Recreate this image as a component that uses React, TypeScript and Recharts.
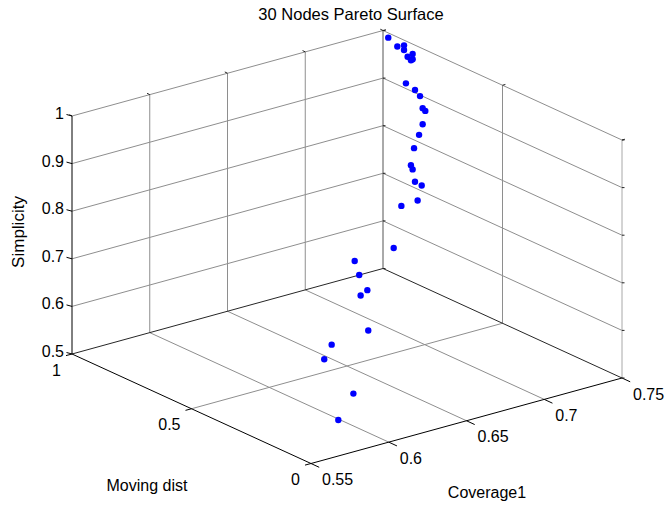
import React from "react";
import {
	ScatterChart,
	Scatter,
	XAxis,
	YAxis,
	ReferenceLine,
	ReferenceDot,
} from "recharts";

// 30 nodes pareto points (coverage1, moving dist, simplicity)
const coverage = [
	0.75, 0.748, 0.75, 0.748, 0.746, 0.75, 0.746, 0.748, 0.74, 0.742, 0.742, 0.74,
	0.742, 0.738, 0.736, 0.734, 0.732, 0.734, 0.732, 0.736, 0.73, 0.72, 0.71, 0.67,
	0.67, 0.67, 0.666, 0.65, 0.63, 0.62, 0.61, 0.59,
];
const movingDist = [
	0.978, 0.927, 0.912, 0.899, 0.871, 0.876, 0.857, 0.863, 0.839, 0.814, 0.793,
	0.769, 0.771, 0.756, 0.758, 0.766, 0.766, 0.772, 0.749, 0.747, 0.725, 0.728,
	0.695, 0.598, 0.579, 0.545, 0.547, 0.411, 0.434, 0.4, 0.213, 0.146,
];
const simplicity = [
	0.99, 0.985, 0.989, 0.984, 0.978, 0.979, 0.974, 0.973, 0.935, 0.925, 0.917,
	0.899, 0.891, 0.87, 0.849, 0.821, 0.787, 0.775, 0.756, 0.745, 0.724, 0.721,
	0.649, 0.68, 0.655, 0.631, 0.623, 0.595, 0.578, 0.564, 0.544, 0.522,
];

const xTicks = [0.55, 0.6, 0.65, 0.7, 0.75];
const yTicks = [0, 0.5, 1];
const zTicks = [0.5, 0.6, 0.7, 0.8, 0.9, 1];
const xTickLabels = ["0.55", "0.6", "0.65", "0.7", "0.75"];
const yTickLabels = ["0", "0.5", "1"];
const zTickLabels = ["0.5", "0.6", "0.7", "0.8", "0.9", "1"];

const W = 669;
const H = 508;
const FONT = "'Liberation Sans', Arial, Helvetica, sans-serif";

// box limits and the screen vectors of the three axes (view of the 3d box)
const X0 = 0.55, X1 = 0.75, Y0 = 0, Y1 = 1, Z0 = 0.5, Z1 = 1;
const ORIGIN = { x: 311, y: 463.5 };
const EX = { x: 311, y: -85.5 };
const EY = { x: -239, y: -109.5 };
const EZ = { x: 0, y: -238 };

const project = (x: number, y: number, z: number) => {
	const u = (x - X0) / (X1 - X0);
	const v = (y - Y0) / (Y1 - Y0);
	const w = (z - Z0) / (Z1 - Z0);
	return {
		x: ORIGIN.x + u * EX.x + v * EY.x + w * EZ.x,
		y: ORIGIN.y + u * EX.y + v * EY.y + w * EZ.y,
	};
};

const points = coverage.map((c, i) => {
	const p = project(c, movingDist[i], simplicity[i]);
	return { sx: p.x, sy: p.y };
});

type Seg = { a: { x: number; y: number }; b: { x: number; y: number }; color: string; w?: number };

const seg3 = (
	p: [number, number, number],
	q: [number, number, number],
	color: string,
	w = 1
): Seg => ({ a: project(...p), b: project(...q), color, w });

const tick = (p: [number, number, number], dx: number, dy: number, color = "#000"): Seg => {
	const a = project(...p);
	return { a, b: { x: a.x + dx, y: a.y + dy }, color, w: 1 };
};

const GRID = "#8e8e8e";
const lines: Seg[] = [];
// floor
xTicks.slice(1, -1).forEach((x) => lines.push(seg3([x, Y0, Z0], [x, Y1, Z0], GRID)));
lines.push(seg3([X0, 0.5, Z0], [X1, 0.5, Z0], GRID));
// back wall (y = 1)
xTicks.slice(1, -1).forEach((x) => lines.push(seg3([x, Y1, Z0], [x, Y1, Z1], GRID)));
zTicks.slice(1).forEach((z) => lines.push(seg3([X0, Y1, z], [X1, Y1, z], GRID)));
// right wall (x = 0.75)
lines.push(seg3([X1, 0.5, Z0], [X1, 0.5, Z1], GRID));
lines.push(seg3([X1, Y0, Z0], [X1, Y0, Z1], "#a8a8a8"));
zTicks.slice(1).forEach((z) => lines.push(seg3([X1, Y1, z], [X1, Y0, z], GRID)));
lines.push(seg3([X1, Y1, Z0], [X1, Y1, Z1], "#555"));
// box edges and axes
lines.push(seg3([X0, Y1, Z0], [X1, Y1, Z0], "#262626"));
lines.push(seg3([X1, Y1, Z0], [X1, Y0, Z0], "#262626"));
lines.push(seg3([X0, Y0, Z0], [X1, Y0, Z0], "#000"));
lines.push(seg3([X0, Y0, Z0], [X0, Y1, Z0], "#000"));
lines.push(seg3([X0, Y1, Z0], [X0, Y1, Z1], "#000"));
// ticks
xTicks.forEach((x) => {
	lines.push(tick([x, Y0, Z0], 8.2, 3.8));
	lines.push(tick([x, Y1, Z1], -2.7, -1.3, "#222"));
});
yTicks.forEach((y) => {
	lines.push(tick([X0, y, Z0], -6, 1.6));
	lines.push(tick([X1, y, Z1], 2.9, -0.8, "#222"));
});
zTicks.forEach((z) => {
	lines.push(tick([X0, Y1, z], -5.5, -1.5));
	lines.push(tick([X1, Y0, z], 2.5, 0, "#222"));
	lines.push(tick([X1, Y1, z], 2.5, 0, "#222"));
});

type Lbl = { x: number; y: number; text: string; anchor: "start" | "middle" | "end"; size: number; angle?: number };
const labels: Lbl[] = [];
zTicks.forEach((z, i) => {
	const p = project(X0, Y1, z);
	labels.push({ x: p.x - 8, y: p.y - 2.5, text: zTickLabels[i], anchor: "end", size: 16 });
});
yTicks.forEach((y, i) => {
	const p = project(X0, y, Z0);
	labels.push({ x: p.x - 11, y: p.y + 16, text: yTickLabels[i], anchor: "end", size: 16 });
});
xTicks.forEach((x, i) => {
	const p = project(x, Y0, Z0);
	labels.push({ x: p.x + 11, y: p.y + 16, text: xTickLabels[i], anchor: "start", size: 16 });
});
labels.push({ x: 351, y: 14, text: "30 Nodes Pareto Surface", anchor: "middle", size: 16.5 });
labels.push({ x: 147, y: 485, text: "Moving dist", anchor: "middle", size: 16 });
labels.push({ x: 487, y: 492, text: "Coverage1", anchor: "middle", size: 16 });
labels.push({ x: 18, y: 232, text: "Simplicity", anchor: "middle", size: 17, angle: -90 });

const ParetoSurface = () => {
	return (
		<div style={{ position: "absolute", left: 0, top: 0, background: "#fff" }}>
			<ScatterChart width={W} height={H} margin={{ top: 0, right: 0, bottom: 0, left: 0 }}>
				<XAxis type="number" dataKey="sx" domain={[0, W]} hide />
				<YAxis type="number" dataKey="sy" domain={[0, H]} reversed hide />
				{lines.map((l, i) => (
					<ReferenceLine
						key={"l" + i}
						segment={[
							{ x: l.a.x, y: l.a.y },
							{ x: l.b.x, y: l.b.y },
						]}
						stroke={l.color}
						strokeWidth={l.w}
						ifOverflow="visible"
					/>
				))}
				{labels.map((t, i) => (
					<ReferenceDot
						key={"t" + i}
						x={t.x}
						y={t.y}
						r={0}
						ifOverflow="visible"
						shape={(p: any) => (
							<text
								x={p.cx}
								y={p.cy}
								textAnchor={t.anchor}
								dominantBaseline="central"
								fontFamily={FONT}
								fontSize={t.size}
								fill="#000"
								transform={t.angle ? `rotate(${t.angle} ${p.cx} ${p.cy})` : undefined}
							>
								{t.text}
							</text>
						)}
					/>
				))}
				<Scatter
					data={points}
					isAnimationActive={false}
					fill="#0000ff"
					shape={(p: any) => <circle cx={p.cx} cy={p.cy} r={3.2} fill="#0000ff" />}
				/>
			</ScatterChart>
		</div>
	);
};

export default ParetoSurface;
